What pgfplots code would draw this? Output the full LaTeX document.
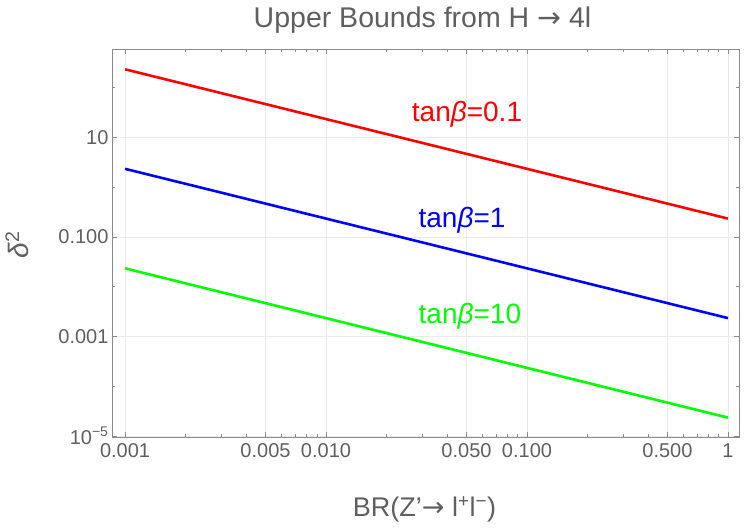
\documentclass[border=0pt]{standalone}
\usepackage{pgfplots}
\pgfplotsset{compat=1.18}
\usepackage{fontspec}
\setmainfont{Liberation Sans}
\newfontfamily\dejavu{DejaVu Sans}
\definecolor{txt}{HTML}{5F5F5F}
\definecolor{frame}{HTML}{8A8A8A}
\definecolor{gridc}{HTML}{EBEBEB}
\begin{document}
\begin{tikzpicture}
\useasboundingbox (-112bp,-93bp) rectangle (638bp,437bp);
\begin{axis}[
  at={(0,0)}, anchor=south west,
  scale only axis, width=627bp, height=388bp,
  xmode=log, ymode=log,
  xmin=0.000861, xmax=1.135,
  ymin=9.5e-6, ymax=596,
  axis line style={frame, line width=0.8pt},
  tick style={frame, line width=0.6pt},
  tick align=inside,
  major tick length=5bp, minor tick length=3bp,
  xtick={0.001,0.005,0.01,0.05,0.1,0.5,1},
  xticklabels={0.001,0.005,0.010,0.050,0.100,0.500,1},
  minor xtick={0.002,0.003,0.004,0.006,0.007,0.008,0.009,0.02,0.03,0.04,0.06,0.07,0.08,0.09,0.2,0.3,0.4,0.6,0.7,0.8,0.9},
  ytick={1e-5,1e-3,0.1,10},
  yticklabels={10\textsuperscript{−5},0.001,0.100,10},
  minor ytick={1e-4,1e-2,1,100},
  grid=major, major grid style={gridc, line width=0.6pt},
  /pgf/number format/assume math mode=true,
  ticklabel style={font=\fontsize{20bp}{22bp}\selectfont, text=txt},
  xticklabel style={yshift=-3bp},
  clip=false,
]
\addplot[red, line width=2.6pt] coordinates {(0.001,233) (1,0.233)};
\addplot[blue, line width=2.6pt] coordinates {(0.001,2.33) (1,0.00233)};
\addplot[green, line width=2.6pt] coordinates {(0.001,0.0233) (1,0.0000233)};
\node[anchor=base, text=red, font=\fontsize{28bp}{30bp}\selectfont] at (axis cs:0.0503,20.6) {tan{\itshape β}=0.1};
\node[anchor=base, text=blue, font=\fontsize{28bp}{30bp}\selectfont] at (axis cs:0.0475,0.157) {tan{\itshape β}=1};
\node[anchor=base, text=green, font=\fontsize{28bp}{30bp}\selectfont] at (axis cs:0.052,0.00185) {tan{\itshape β}=10};
\end{axis}
\node[anchor=base, text=txt, font=\fontsize{28.5bp}{30bp}\selectfont] at (310.5bp,409bp) {Upper Bounds from H {\dejavu →} 4l};
\node[anchor=base, text=txt, font=\fontsize{27bp}{30bp}\selectfont] at (312.5bp,-79.7bp) {BR(Z\symbol{"27}{\dejavu →} l\textsuperscript{+}l\textsuperscript{−})};
\node[text=txt, rotate=90, font=\fontsize{28bp}{30bp}\selectfont] at (-95bp,192bp) {{\itshape δ}\textsuperscript{2}};
\end{tikzpicture}
\end{document}
